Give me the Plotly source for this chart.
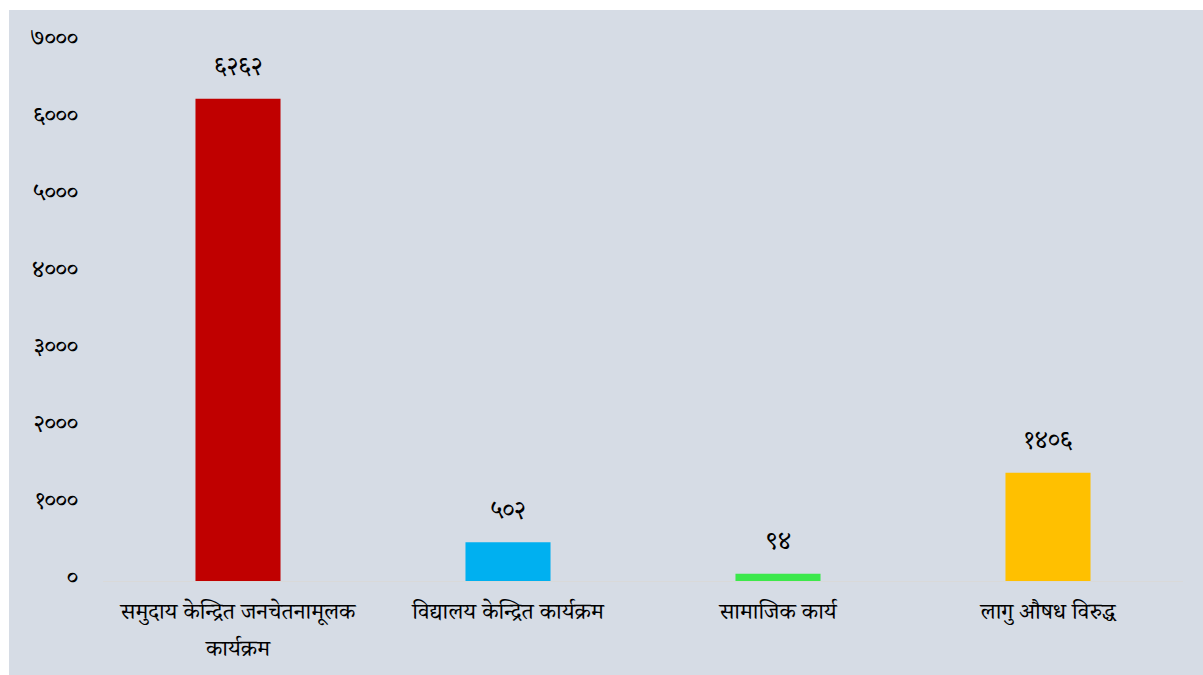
import plotly.graph_objects as go

categories = ["समुदाय केन्द्रित जनचेतनामूलक", "विद्यालय केन्द्रित कार्यक्रम", "सामाजिक कार्य", "लागु औषध विरुद्ध"]
category_second_lines = ["कार्यक्रम", "", "", ""]
values = [6262, 502, 94, 1406]
value_labels = ["६२६२", "५०२", "९४", "१४०६"]
bar_colors = ["#C00000", "#00B0F0", "#3CE84C", "#FFC000"]
tick_vals = [0, 1000, 2000, 3000, 4000, 5000, 6000, 7000]
tick_text = ["०", "१०००", "२०००", "३०००", "४०००", "५०००", "६०००", "७०००"]

FONT = "Noto Serif Devanagari, Noto Sans Devanagari, Lohit Devanagari, FreeSerif, Noto Sans, sans-serif"
BG = "#D6DCE5"

fig = go.Figure()
fig.add_trace(go.Bar(
    x=categories, y=values, marker=dict(color=bar_colors, line=dict(width=0)),
    width=0.315, hoverinfo="skip",
))
for c, v, t in zip(categories, values, value_labels):
    fig.add_annotation(x=c, y=v, text=t, showarrow=False, yanchor="middle", yshift=28,
                       font=dict(family=FONT, size=25, color="#000000"))
for c, t in zip(categories, category_second_lines):
    if t:
        fig.add_annotation(x=c, y=0, text=t, showarrow=False, yanchor="middle", yshift=-71,
                           font=dict(family=FONT, size=23, color="#000000"))

W, H = 1203, 675
L, R, T, B = 103, 20, 42, 94
pw, ph = W - L - R, H - T - B
fig.add_shape(type="rect", xref="paper", yref="paper",
              x0=(9 - L) / pw, x1=(W - L) / pw + 0.01,
              y0=-(B + 5) / ph, y1=1 + (T - 10) / ph,
              fillcolor=BG, line=dict(width=0), layer="below")

fig.update_layout(
    width=W, height=H,
    margin=dict(l=L, r=R, t=T, b=B, pad=0),
    paper_bgcolor="#FFFFFF", plot_bgcolor=BG,
    showlegend=False,
    font=dict(family=FONT, color="#000000"),
)
fig.update_xaxes(showgrid=False, showline=True, linecolor="#D9D9D9", linewidth=1,
                 ticks="", tickfont=dict(family=FONT, size=23, color="#000000"),
                 ticklabelstandoff=9)
fig.update_yaxes(range=[0, 7000], tickvals=tick_vals, ticktext=tick_text,
                 showgrid=False, zeroline=False, showline=False, ticks="",
                 tickfont=dict(family=FONT, size=24, color="#000000"),
                 ticklabelstandoff=24, ticklabelshift=-4)

fig.write_html("out.html", config={"displayModeBar": False},
               post_script="document.body.style.margin='0';")
